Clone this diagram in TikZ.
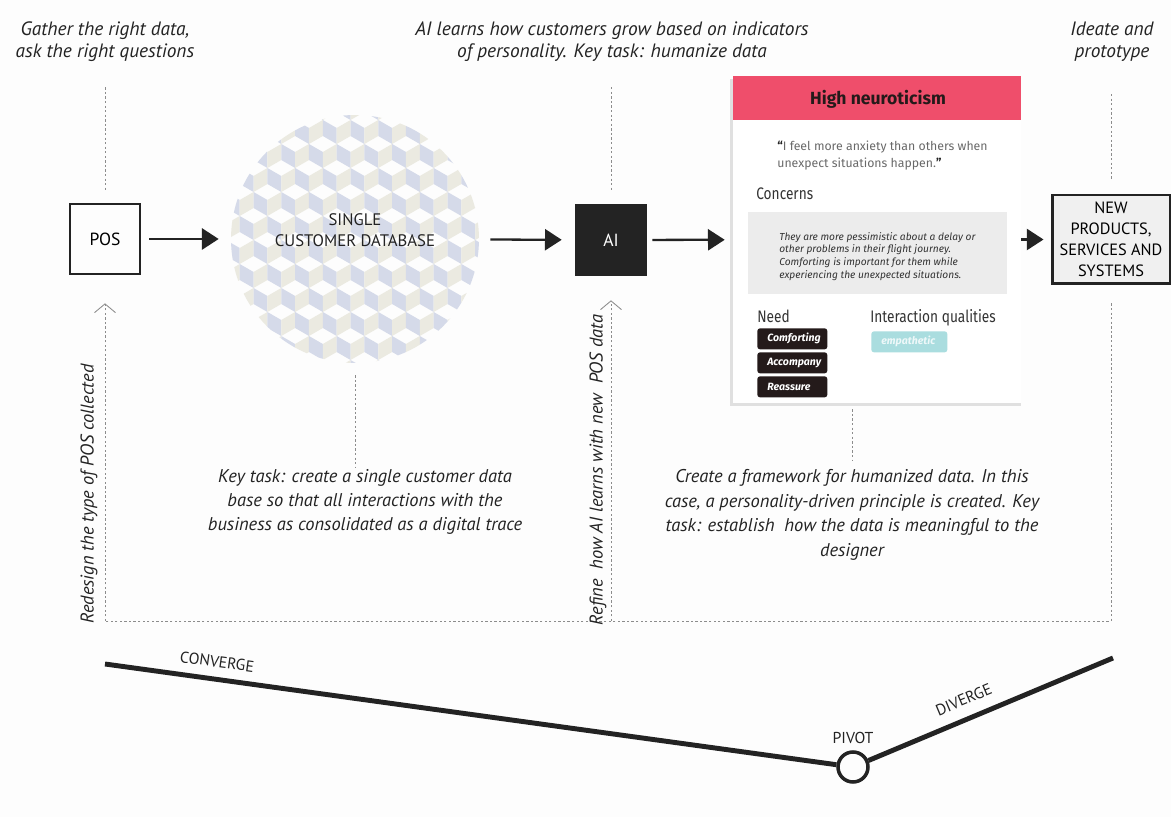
\documentclass[tikz,border=0pt]{standalone}
\usepackage{fontspec}
\setmainfont{PT Sans}
\newfontfamily\cardfont{Fira Sans}
\newfontfamily\condfont{Fira Sans}[FakeStretch=0.82]
\usetikzlibrary{positioning,arrows.meta}
\definecolor{paper}{RGB}{253,253,253}
\definecolor{inkdark}{RGB}{35,35,35}
\definecolor{guidegray}{RGB}{140,140,140}
\definecolor{cubeblue}{RGB}{213,218,233}
\definecolor{cubebeige}{RGB}{235,234,225}
\definecolor{neuropink}{RGB}{239,78,107}
\definecolor{concerngray}{RGB}{236,236,236}
\definecolor{quotegray}{RGB}{105,105,105}
\definecolor{tagblack}{RGB}{36,26,26}
\definecolor{tagteal}{RGB}{170,221,223}
\definecolor{newgray}{RGB}{240,240,240}

\begin{document}
\begin{tikzpicture}[x=0.02cm,y=-0.02cm,
  capt/.style={font=\fontsize{11}{12.5}\selectfont\itshape,text=inkdark,align=center,inner sep=0pt},
  note/.style={font=\fontsize{10.5}{13.9}\selectfont\itshape,text=inkdark,align=center,inner sep=0pt},
  stage/.style={draw=inkdark,line width=1.5pt,minimum width=1.4cm,minimum height=1.4cm,inner sep=0pt,font=\fontsize{10}{12}\selectfont},
  flowarr/.style={line width=1.3pt,draw=inkdark,-{Triangle[length=9.5pt,width=12pt]}},
  guide/.style={draw=guidegray,line width=0.5pt,dash pattern=on 1.3pt off 1.3pt},
  loopback/.style={guide,-{Straight Barb[length=5pt,width=12pt]}},
  cardlbl/.style={font=\condfont\fontsize{9.5}{11}\selectfont,text=black!80,inner sep=0pt,anchor=base west},
  needtag/.style={anchor=north west,fill=tagblack,text=white,rounded corners=1.5pt,text width=1.0cm,align=left,
    inner xsep=0.2cm,inner ysep=0pt,minimum height=0.42cm,font=\cardfont\fontsize{6}{7}\selectfont\bfseries\itshape},
  phaseline/.style={draw=inkdark,line width=2.8pt},
  lbl/.style={font=\fontsize{9}{10}\selectfont,text=inkdark}
]
\fill[paper] (0,0) rectangle (1171,817);
\useasboundingbox (0,0) rectangle (1171,817);

% Captions on top
\node[capt] (gather) at (105,42) {Gather the right data,\\ask the right questions};
\node[capt] (learns) at (612,42) {AI learns how customers grow based on indicators\\of personality. Key task: humanize data};
\node[capt] (ideate) at (1112,42) {Ideate and\\prototype};

% POS
\node[stage] (pos) at (105,239) {POS};

% Single customer database (cube pattern)
\begin{scope}
  \clip (355,239) circle [radius=2.48cm];
  \foreach \j in {0,...,11} {
    \foreach \i in {0,...,10} {
      \pgfmathsetmacro\cx{212+\i*27.71+mod(\j,2)*13.86}
      \pgfmathsetmacro\cy{104+\j*24}
      \fill[cubeblue] (\cx-13.86,\cy-8) -- (\cx,\cy) -- (\cx,\cy+16) -- (\cx-13.86,\cy+8) -- cycle;
      \fill[cubebeige] (\cx,\cy) -- (\cx+13.86,\cy-8) -- (\cx+13.86,\cy+8) -- (\cx,\cy+16) -- cycle;
    }
  }
\end{scope}
\node[circle,minimum size=4.96cm,inner sep=0pt] (cdb) at (355,239) {};
\node[font=\fontsize{9.5}{12}\selectfont,text=inkdark,align=center] (cdbtext) at (355,230) {SINGLE\\CUSTOMER DATABASE};

% AI
\node[stage,fill=inkdark,text=white] (ai) at (611,240) {AI};

% Persona card
\fill[black!12] (730,79) rectangle (1021,406);
\node[fill=white,minimum width=5.76cm,minimum height=6.54cm,inner sep=0pt] (card) at (877,239.5) {};
\fill[neuropink] (733,76) rectangle (1021,120);
\node[font=\cardfont\fontsize{10}{12}\selectfont\bfseries,text=tagblack] (cardtitle) at (878,99) {High neuroticism};
\node[font=\cardfont\fontsize{7}{9.4}\selectfont,text=quotegray,align=left,anchor=north west,inner sep=0pt] (quote) at (777,141)
  {{\bfseries\color{inkdark}“}I feel more anxiety than others when\\unexpect situations happen.{\bfseries\color{inkdark}”}};
\node[cardlbl] (concerns) at (756,200) {Concerns};
\node[fill=concerngray,minimum width=5.18cm,minimum height=1.64cm,inner sep=0pt,anchor=north west] (concernbox) at (748,212) {};
\node[font=\cardfont\fontsize{5.8}{7.2}\selectfont\itshape,text=black!80,align=left,anchor=north west,inner sep=0pt] (concerntext) at (779,232)
  {They are more pessimistic about a delay or\\other problems in their flight journey.\\Comforting is important for them while\\experiencing the unexpected situations.};
\node[cardlbl] (need) at (757,323) {Need};
\node[cardlbl] (quality) at (870,323) {Interaction qualities};
\node[needtag] (tagA) at (757,328) {Comforting};
\node[needtag] (tagB) at (757,352) {Accompany};
\node[needtag] (tagC) at (757,376) {Reassure};
\node[needtag,fill=tagteal,text=white!80!tagteal,text width=1.12cm] (tagD) at (871,331) {empathetic};

% New products
\node[stage,fill=newgray,line width=1.7pt,minimum width=2.36cm,minimum height=1.78cm,align=center,
  font=\fontsize{9.3}{11.9}\selectfont] (npss) at (1111,239.5) {NEW\\PRODUCTS,\\SERVICES AND\\SYSTEMS};

% Main flow
\draw[flowarr,shorten <=0.16cm,shorten >=0.24cm] (pos) -- (cdb);
\draw[flowarr,shorten <=0.22cm,shorten >=0.26cm] (cdb) -- (ai);
\draw[flowarr,shorten <=0.1cm,shorten >=0.16cm] (ai) -- (card);
\draw[flowarr,shorten >=0.14cm] (card) -- (npss);

% Guides from captions
\draw[guide,shorten <=0.5cm,shorten >=0.24cm] (gather.south -| pos) -- (pos);
\draw[guide,shorten <=0.5cm,shorten >=0.24cm] (learns.south -| ai) -- (ai);
\draw[guide,shorten <=0.64cm,shorten >=0.26cm] (ideate.south -| npss) -- (npss);

% Notes below
\node[note] (keytask) at (365,502) {Key task: create a single customer data\\base so that all interactions with the\\business as consolidated as a digital trace};
\node[note] (framework) at (852,515) {Create a framework for humanized data. In this\\case, a personality-driven principle is created. Key\\task: establish~ how the data is meaningful to the\\designer};
\draw[guide,shorten <=0.24cm,shorten >=0.04cm] (cdb.south) -- (cdb.south |- keytask.north);
\draw[guide,shorten <=0.12cm,shorten >=0.16cm] (framework.north |- card.south) -- (framework.north);

% Feedback loop
\coordinate (loopL) at (105,621);
\draw[guide,shorten <=0.36cm] (npss.south) |- (loopL);
\draw[loopback,shorten >=0.56cm] (loopL) -- (pos.south);
\draw[loopback,shorten >=0.48cm] (loopL -| ai.south) -- (ai.south);
\node[note,rotate=90] (redesign) at (89,494) {Redesign the type of POS collected};
\node[note,rotate=90] (refine) at (598,470) {Refine~ how AI learns with new~ POS data};

% Converge / diverge
\node[draw=inkdark,circle,line width=2pt,minimum size=0.6cm,inner sep=0pt,fill=paper,
  label={[lbl]above:PIVOT}] (pivot) at (853,767) {};
\coordinate (convstart) at (105,664);
\coordinate (divend) at (1113,658);
\draw[phaseline] (convstart) -- node[lbl,pos=0.15,above=2pt,sloped] (converge) {CONVERGE} (pivot);
\draw[phaseline] (pivot) -- node[lbl,pos=0.42,above=3pt,sloped] (diverge) {DIVERGE} (divend);

\end{tikzpicture}
\end{document}
